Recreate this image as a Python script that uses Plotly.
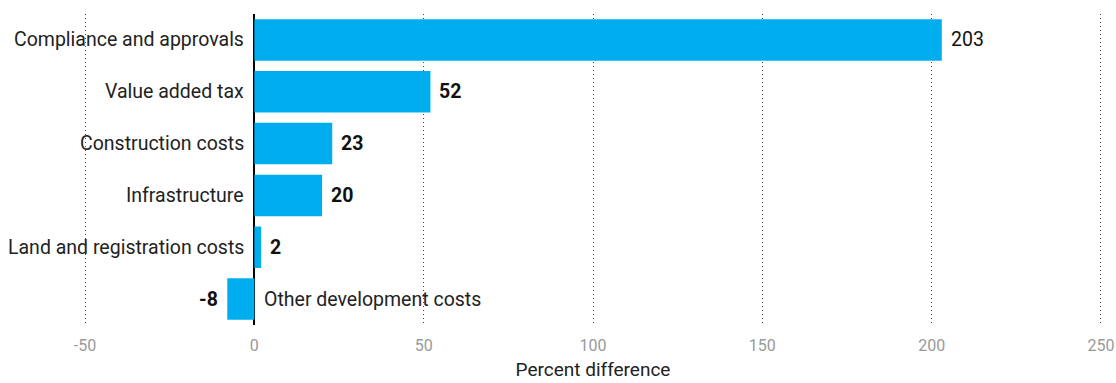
import plotly.graph_objects as go

categories = ["Compliance and approvals", "Value added tax", "Construction costs",
              "Infrastructure", "Land and registration costs", "Other development costs"]
values = [203, 52, 23, 20, 2, -8]
bold_labels = [False, True, True, True, True, True]
inside_label_category = "Other development costs"
x_ticks = [-50, 0, 50, 100, 150, 200, 250]
x_tick_labels = ["-50", "0", "50", "100", "150", "200", "250"]

FONT = "Roboto, sans-serif"
LABEL_SIZE = 19.5

fig = go.Figure()
fig.add_trace(go.Bar(
    y=categories, x=values, orientation="h",
    marker=dict(color="#00AEEF", line=dict(width=0)),
    width=0.8, hoverinfo="skip",
))

# value labels
for c, v, b in zip(categories, values, bold_labels):
    txt = f"<b>{v}</b>" if b else f"{v}"
    fig.add_annotation(x=v, y=c, text=txt, showarrow=False,
                       xanchor="left" if v >= 0 else "right",
                       xshift=7 if v >= 0 else -7,
                       font=dict(family=FONT, size=LABEL_SIZE, color="#111111"))

# category labels, placed against the zero line
for c, v in zip(categories, values):
    if c == inside_label_category:
        fig.add_annotation(x=0, y=c, text=c, xanchor="left", xshift=8, showarrow=False,
                           font=dict(family=FONT, size=LABEL_SIZE, color="#222222"))
    else:
        fig.add_annotation(x=0, y=c, text=c, xanchor="right", xshift=-8, showarrow=False,
                           font=dict(family=FONT, size=LABEL_SIZE, color="#222222"))

fig.update_layout(
    width=1116, height=383,
    margin=dict(l=83, r=13, t=14, b=58),
    plot_bgcolor="white", paper_bgcolor="white",
    showlegend=False,
    xaxis=dict(range=[-50.6, 250.6], tickvals=x_ticks, ticktext=x_tick_labels,
               automargin=False,
               showgrid=True, gridcolor="#444444", griddash="1px,3px", gridwidth=1,
               zeroline=True, zerolinecolor="#000000", zerolinewidth=1.5,
               tickfont=dict(family=FONT, size=16, color="#999999"),
               ticks="outside", ticklen=6, tickcolor="rgba(0,0,0,0)",
               title=dict(text="Percent difference", standoff=8,
                          font=dict(family=FONT, size=19, color="#222222")),
               showline=False),
    yaxis=dict(categoryorder="array", categoryarray=categories[::-1],
               showticklabels=False, automargin=False,
               showgrid=False, ticks="", zeroline=False,
               range=[-0.5, 5.5]),
)

fig.write_html("out.html")
